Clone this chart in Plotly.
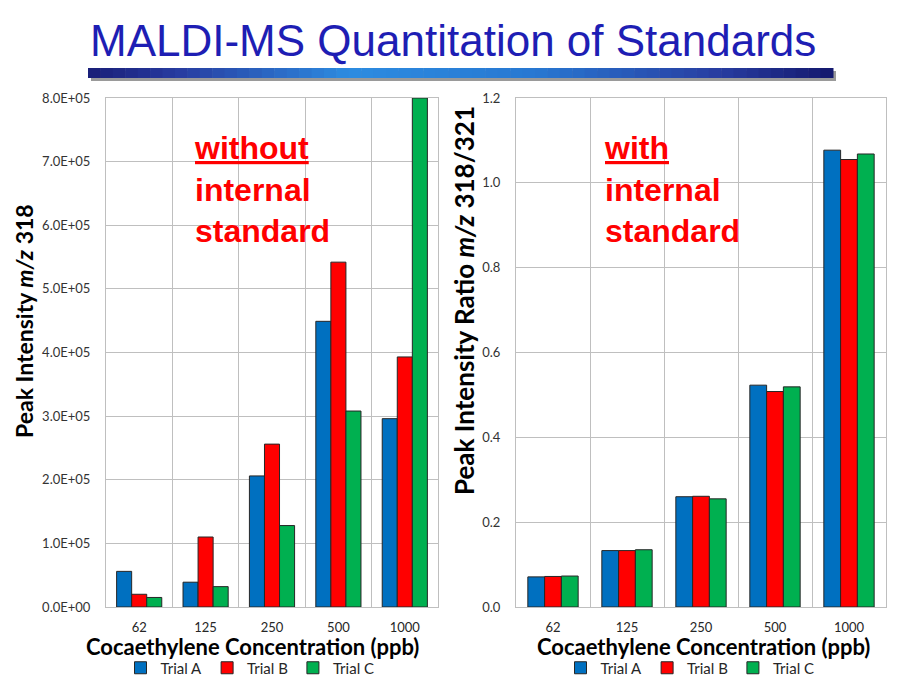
import plotly.graph_objects as go

# ---------------- data ----------------
categories = ["62", "125", "250", "500", "1000"]
series_names = ["Trial A", "Trial B", "Trial C"]
series_colors = ["#0070C0", "#FF0000", "#00B050"]

left_trial_a = [56000, 39000, 206000, 449000, 296000]
left_trial_b = [20000, 110000, 256000, 542000, 393000]
left_trial_c = [15000, 32000, 128000, 308000, 800000]

right_trial_a = [0.071, 0.133, 0.260, 0.523, 1.077]
right_trial_b = [0.072, 0.133, 0.261, 0.508, 1.055]
right_trial_c = [0.073, 0.135, 0.255, 0.519, 1.068]

left_tick_vals = [0, 100000, 200000, 300000, 400000, 500000, 600000, 700000, 800000]
left_tick_text = [f"{v:.1E}" for v in left_tick_vals]
right_tick_vals = [0.0, 0.2, 0.4, 0.6, 0.8, 1.0, 1.2]
right_tick_text = [f"{v:.1f}" for v in right_tick_vals]

title_text = "MALDI-MS Quantitation of Standards"
left_note = "<u>without</u><br>internal<br>standard"
right_note = "<u>with</u><br>internal<br>standard"
x_title = "Cocaethylene Concentration (ppb)"
left_y_title = "Peak Intensity <i>m/z</i> 318"
right_y_title = "Peak Intensity Ratio <i>m/z</i> 318/321"

W, H = 900, 680
def px(x):
    return x / W
def py(y):
    return 1 - y / H

fig = go.Figure()

left_series = [left_trial_a, left_trial_b, left_trial_c]
right_series = [right_trial_a, right_trial_b, right_trial_c]

for name, color, vals in zip(series_names, series_colors, left_series):
    fig.add_trace(go.Bar(
        x=categories, y=vals, name=name, xaxis="x", yaxis="y",
        marker=dict(color=color, line=dict(color="#262626", width=1)),
        legend="legend",
    ))
for name, color, vals in zip(series_names, series_colors, right_series):
    fig.add_trace(go.Bar(
        x=categories, y=vals, name=name, xaxis="x2", yaxis="y2",
        marker=dict(color=color, line=dict(color="#262626", width=1)),
        legend="legend2",
    ))

tick_font = dict(family="Lato, sans-serif", size=13, color="#333333")
grid_color = "#BFBFBF"

common_x = dict(type="category", tickson="boundaries", showgrid=True,
                gridcolor=grid_color, gridwidth=1, showline=True,
                linecolor=grid_color, mirror=True, ticks="",
                tickfont=dict(family="Lato, sans-serif", size=13, color="#262626"),
                ticklabelstandoff=8, zeroline=False, automargin=False)
common_y = dict(showgrid=True, gridcolor=grid_color, gridwidth=1,
                showline=True, linecolor=grid_color, mirror=True, ticks="",
                tickfont=tick_font, zeroline=False, ticklabelstandoff=12,
                automargin=False)

legend_font = dict(family="Lato, sans-serif", size=15, color="#262626")

fig.update_layout(
    width=W, height=H,
    margin=dict(l=0, r=0, t=0, b=0, autoexpand=False),
    paper_bgcolor="white", plot_bgcolor="white",
    barmode="group",
    bargap=0.32, bargroupgap=0,
    xaxis=dict(domain=[px(106), px(438)], anchor="y", **common_x),
    yaxis=dict(domain=[py(607), py(98)], anchor="x", range=[0, 800000],
               tickvals=left_tick_vals, ticktext=left_tick_text, **common_y),
    xaxis2=dict(domain=[px(516), px(886)], anchor="y2", **common_x),
    yaxis2=dict(domain=[py(607), py(98)], anchor="x2", range=[0, 1.2],
                tickvals=right_tick_vals, ticktext=right_tick_text, **common_y),
    legend=dict(orientation="h", x=px(250), y=py(668), xanchor="center",
                yanchor="middle", font=legend_font, xref="container", yref="container",
                bgcolor="rgba(0,0,0,0)", itemwidth=30, traceorder="normal"),
    legend2=dict(orientation="h", x=px(690), y=py(668), xanchor="center",
                 yanchor="middle", font=legend_font, xref="container", yref="container",
                 bgcolor="rgba(0,0,0,0)", itemwidth=30, traceorder="normal"),
    showlegend=True,
)

annotations = [
    dict(text=title_text, x=px(453), y=py(40), xref="paper", yref="paper",
         showarrow=False, xanchor="center", yanchor="middle",
         font=dict(family="Liberation Sans, Arial, sans-serif", size=44, color="#1E1EB4")),
    dict(text=left_note, x=px(192), y=py(128), xref="paper", yref="paper",
         showarrow=False, xanchor="left", yanchor="top", align="left",
         font=dict(family="Liberation Sans, Arial, sans-serif", size=32, color="#FF0000", weight="bold")),
    dict(text=right_note, x=px(602), y=py(128), xref="paper", yref="paper",
         showarrow=False, xanchor="left", yanchor="top", align="left",
         font=dict(family="Liberation Sans, Arial, sans-serif", size=32, color="#FF0000", weight="bold")),
    dict(text="<b>" + x_title + "</b>", x=px(252), y=py(646), xref="paper", yref="paper",
         showarrow=False, xanchor="center", yanchor="middle",
         font=dict(family="Lato, sans-serif", size=22, color="black")),
    dict(text="<b>" + x_title + "</b>", x=px(703), y=py(646), xref="paper", yref="paper",
         showarrow=False, xanchor="center", yanchor="middle",
         font=dict(family="Lato, sans-serif", size=22, color="black")),
    dict(text="<b>" + left_y_title + "</b>", x=px(24), y=py(321), xref="paper", yref="paper",
         showarrow=False, xanchor="center", yanchor="middle", textangle=-90,
         font=dict(family="Lato, sans-serif", size=23, color="black")),
    dict(text="<b>" + right_y_title + "</b>", x=px(464), y=py(301), xref="paper", yref="paper",
         showarrow=False, xanchor="center", yanchor="middle", textangle=-90,
         font=dict(family="Lato, sans-serif", size=26, color="black")),
]
fig.update_layout(annotations=annotations)

# decorative gradient bar under the title
shapes = [dict(type="rect", xref="paper", yref="paper",
               x0=px(91), x1=px(836), y0=py(81), y1=py(71),
               fillcolor="#9A9A9A", line=dict(width=0), layer="below")]
bar_x0, bar_x1 = 88, 833
n_seg = 60
stops = [(0.0, (25, 30, 120)), (0.12, (40, 60, 160)), (0.35, (45, 140, 225)),
         (0.6, (40, 120, 210)), (0.85, (40, 60, 160)), (1.0, (20, 25, 110))]
def grad(t):
    for (t0, c0), (t1, c1) in zip(stops[:-1], stops[1:]):
        if t0 <= t <= t1:
            f = (t - t0) / (t1 - t0)
            return "rgb(%d,%d,%d)" % tuple(int(a + (b - a) * f) for a, b in zip(c0, c1))
    return "rgb(20,25,110)"
seg_w = (bar_x1 - bar_x0) / n_seg
for i in range(n_seg):
    xa = bar_x0 + i * seg_w
    shapes.append(dict(type="rect", xref="paper", yref="paper",
                       x0=px(xa), x1=px(xa + seg_w + 0.5), y0=py(78), y1=py(68),
                       fillcolor=grad((i + 0.5) / n_seg), line=dict(width=0), layer="below"))
fig.update_layout(shapes=shapes)

fig.write_html("out.html")
